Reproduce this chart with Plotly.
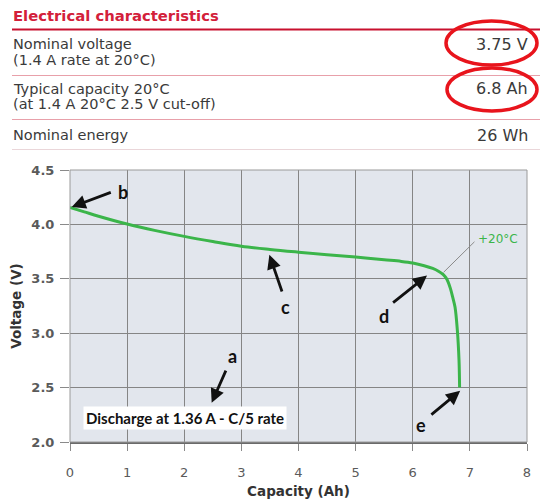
import plotly.graph_objects as go

# ---------------- data ----------------
capacity_ah = [0, 0.25, 0.5, 1.0, 1.5, 2.0, 2.5, 3.0, 3.5, 4.0, 4.5, 5.0, 5.5,
               5.8, 6.0, 6.2, 6.35, 6.45, 6.53, 6.58, 6.62, 6.66, 6.70, 6.74,
               6.78, 6.81, 6.82]
voltage_v = [4.155, 4.115, 4.075, 4.003, 3.943, 3.89, 3.843, 3.80, 3.77, 3.745,
             3.722, 3.70, 3.675, 3.66, 3.645, 3.62, 3.595, 3.57, 3.54, 3.51,
             3.47, 3.41, 3.33, 3.24, 3.03, 2.75, 2.50]

x_ticks = [0, 1, 2, 3, 4, 5, 6, 7, 8]
y_ticks = [2.0, 2.5, 3.0, 3.5, 4.0, 4.5]
y_tick_labels = ["2.0", "2.5", "3.0", "3.5", "4.0", "4.5"]

table_title = "Electrical characteristics"
table_rows = [
    ("Nominal voltage", "(1.4 A rate at 20°C)", "3.75 V"),
    ("Typical capacity 20°C", "(at 1.4 A 20°C 2.5 V cut-off)", "6.8 Ah"),
    ("Nominal energy", "", "26 Wh"),
]
series_label = "+20°C"
box_label = "Discharge at 1.36 A - C/5 rate"

# ---------------- layout helpers ----------------
W, H = 540, 499
ML, MR, MT, MB = 70, 13, 170, 57
PW, PH = W - ML - MR, H - MT - MB


def px(x):
    return (x - ML) / PW


def py(y):
    return (H - MB - y) / PH


TFONT = "DejaVu Sans"
GREEN = "#3bb54a"
RED = "#d3203a"
TXT = "#3a3a3a"

fig = go.Figure()
fig.add_trace(go.Scatter(
    x=capacity_ah, y=voltage_v, mode="lines",
    line=dict(color=GREEN, width=3, shape="spline", smoothing=1.0),
    hoverinfo="skip", showlegend=False,
))

annotations = []
shapes = []

# table title and rows
annotations.append(dict(x=px(11), y=py(15), xref="paper", yref="paper",
                        text="<b>" + table_title + "</b>", showarrow=False,
                        xanchor="left", yanchor="middle",
                        font=dict(family=TFONT, size=14.8, color=RED)))
shapes.append(dict(type="line", xref="paper", yref="paper",
                   x0=px(12), x1=px(540), y0=py(29.5), y1=py(29.5),
                   line=dict(color="#c8102e", width=2)))

row_main_y = [44, 89, 135]
row_sub_y = [60, 104, None]
row_line_y = [75.5, 119.5, 149.5]
row_line_col = ["#e8a0aa", "#e8a0aa", "#ead6d9"]
for (main, sub, val), my, sy, ly, lc in zip(table_rows, row_main_y, row_sub_y,
                                             row_line_y, row_line_col):
    annotations.append(dict(x=px(11), y=py(my), xref="paper", yref="paper",
                            text=main, showarrow=False, xanchor="left",
                            yanchor="middle",
                            font=dict(family=TFONT, size=14.5, color=TXT)))
    if sub:
        annotations.append(dict(x=px(11), y=py(sy), xref="paper", yref="paper",
                                text=sub, showarrow=False, xanchor="left",
                                yanchor="middle",
                                font=dict(family=TFONT, size=14.5, color=TXT)))
    annotations.append(dict(x=px(530), y=py(my), xref="paper", yref="paper",
                            text=val, showarrow=False, xanchor="right",
                            yanchor="middle",
                            font=dict(family=TFONT, size=16, color=TXT)))
    shapes.append(dict(type="line", xref="paper", yref="paper",
                       x0=px(12), x1=px(540), y0=py(ly), y1=py(ly),
                       line=dict(color=lc, width=1.2)))

# red ellipses
for (x0, x1, y0, y1) in [(446, 537, 21, 65), (447, 537, 68, 111)]:
    shapes.append(dict(type="circle", xref="paper", yref="paper",
                       x0=px(x0), x1=px(x1), y0=py(y1), y1=py(y0),
                       line=dict(color="#e8141c", width=3.5)))

# leader line for series label
shapes.append(dict(type="line", xref="x", yref="y", x0=6.54, y0=3.56,
                   x1=7.08, y1=3.84, line=dict(color="#8a8a8a", width=1)))
annotations.append(dict(x=7.11, y=3.866, xref="x", yref="y", text=series_label,
                        showarrow=False, xanchor="left", yanchor="middle",
                        font=dict(family=TFONT, size=12, color=GREEN)))

# hand-drawn arrows with letters
arrows = [
    # letter, tip(x,y), tail(x,y), letter pos(x,y)
    ("b", (0.03, 4.16), (0.74, 4.30), (0.93, 4.30)),
    ("c", (3.49, 3.72), (3.72, 3.37), (3.77, 3.24)),
    ("d", (6.25, 3.53), (5.63, 3.27), (5.49, 3.16)),
    ("e", (6.83, 2.47), (6.30, 2.24), (6.15, 2.16)),
    ("a", (2.48, 2.36), (2.74, 2.67), (2.85, 2.79)),
]
for letter, tip, tail, lp in arrows:
    annotations.append(dict(x=tip[0], y=tip[1], xref="x", yref="y",
                            ax=tail[0], ay=tail[1], axref="x", ayref="y",
                            text="", showarrow=True, arrowhead=2, arrowsize=1,
                            arrowwidth=2.8, arrowcolor="#111111"))
    annotations.append(dict(x=lp[0], y=lp[1], xref="x", yref="y",
                            text="<b>" + letter + "</b>", showarrow=False,
                            font=dict(family="Lato", size=18, color="#111111")))

# discharge box
annotations.append(dict(x=2.01, y=2.22, xref="x", yref="y",
                        text="<b>" + box_label + "</b>", showarrow=False,
                        bgcolor="white", borderpad=2,
                        font=dict(family="Lato", size=15, color="#111111")))

tickfont = dict(family="DejaVu Sans", size=13, color="#5a5a5a")
fig.update_layout(
    width=W, height=H,
    margin=dict(l=ML, r=MR, t=MT, b=MB, autoexpand=False),
    paper_bgcolor="white", plot_bgcolor="#e2e6ed",
    showlegend=False,
    annotations=annotations,
    xaxis=dict(range=[0, 8], tickvals=x_ticks, showgrid=True, automargin=False,
               gridcolor="#858585", gridwidth=1, zeroline=False,
               showline=True, linecolor="#6a6a6a", linewidth=2, mirror=False,
               ticks="outside", ticklen=7, tickcolor="#8a8a8a",
               ticklabelstandoff=10,
               tickfont=tickfont,
               tickprefix="<b>", ticksuffix="</b>",
               title=dict(text="<b>Capacity (Ah)</b>", standoff=9,
                          font=dict(family="DejaVu Sans", size=13.5, color="#333333"))),
    yaxis=dict(range=[2.0, 4.5], tickvals=y_ticks, automargin=False,
               ticktext=["<b>%s</b>" % t for t in y_tick_labels],
               showgrid=True, gridcolor="#858585", gridwidth=1, zeroline=False,
               showline=False, ticks="outside", ticklen=9, tickcolor="#8a8a8a",
               ticklabelstandoff=3,
               tickfont=tickfont,
               title=dict(text="<b>Voltage (V)</b>", standoff=6,
                          font=dict(family="DejaVu Sans", size=13.5, color="#333333"))),
)
# frame on top / right / left
shapes.append(dict(type="rect", xref="paper", yref="paper", x0=0, x1=1, y0=0, y1=1,
                   line=dict(color="#9a9a9a", width=1), layer="above"))
fig.update_layout(shapes=shapes)

fig.write_html("out.html", config={"displayModeBar": False},
               post_script="document.body.style.margin='0px';document.body.style.padding='0px';")
